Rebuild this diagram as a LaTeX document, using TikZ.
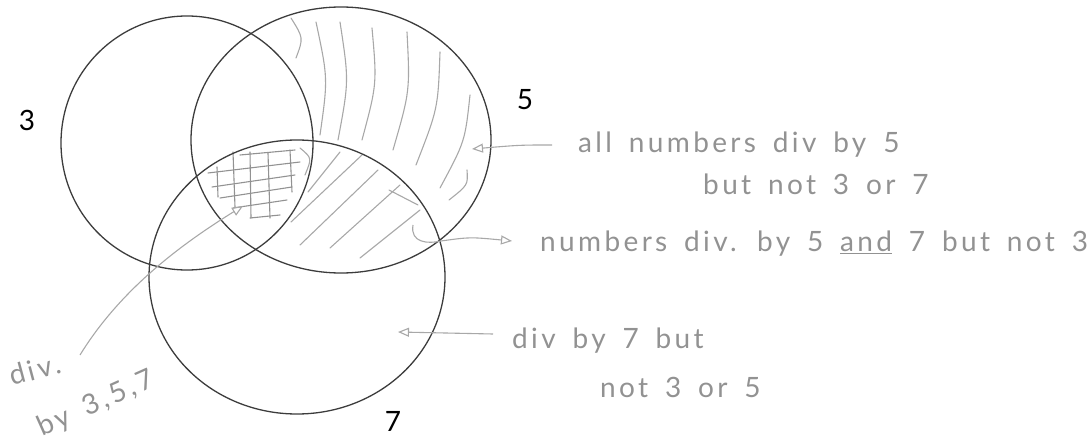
\documentclass[tikz,border=0pt]{standalone}
\usepackage{fontspec}
\setmainfont{Lato}
\newfontfamily\handfont[LetterSpace=12,WordSpace=1.6]{Lato}
\usetikzlibrary{arrows.meta}

\definecolor{ink}{HTML}{3C3C3C}
\definecolor{pencil}{HTML}{A8A8A8}
\definecolor{lead}{HTML}{929292}

\begin{document}
\begin{tikzpicture}[x=1pt, y=-1pt,
    ring/.style={draw=ink, line width=1.3pt},
    hatch/.style={draw=pencil, line width=1.1pt, line cap=round},
    grid/.style={draw=lead, line width=1.1pt, line cap=round},
    pointer/.style={-{Triangle[open, length=11pt, width=9pt]}, draw=pencil, line width=1.1pt},
    note/.style={text=lead, font=\handfont\fontsize{28}{32}\selectfont, inner sep=0pt, anchor=base west},
    digit/.style={text=black, font=\fontsize{28}{30}\selectfont, inner sep=0pt}
]
\useasboundingbox (0,0) rectangle (1089,446);

% 5 only
\foreach \xa/\ya/\xb/\yb in {291/18/296/58, 316/22/320/135, 340/22/338/140, 372/28/362/140,
    407/32/393/150, 440/52/416/165, 470/95/440/188, 467/170/449/200}
  \draw[hatch] (\xa,\ya) .. controls ({(\xa+\xb)/2+10},{(\ya+\yb)/2}) .. (\xb,\yb);

% 5 and 7, not 3
\foreach \xa/\ya/\xb/\yb in {308/192/340/152, 291/222/362/155, 300/245/378/170,
    330/248/400/185, 360/258/420/210, 389/190/418/205}
  \draw[hatch] (\xa,\ya) -- (\xb,\yb);
\draw[hatch] (300,148) .. controls (312,158) .. (305,175);

% 3, 5 and 7
\foreach \xa/\ya/\xb/\yb in {217/167/218/197, 233/152/235/207, 250/152/251/218,
    268/153/270/218, 290/150/292/192}
  \draw[grid] (\xa,\ya) -- (\xb,\yb);
\foreach \xa/\ya/\xb/\yb in {240/155/295/150, 208/173/300/162, 212/187/295/175,
    220/198/292/187, 233/208/287/200, 250/218/280/215}
  \draw[grid] (\xa,\ya) -- (\xb,\yb);

\draw[ring] (187,143) ellipse [x radius=126, y radius=127];
\draw[ring] (341,140) ellipse [x radius=150, y radius=133];
\draw[ring] (297,277) ellipse [x radius=148, y radius=137];

\node[digit] (n3) at (27,120) {3};
\node[digit] (n5) at (525,100) {5};
\node[digit] (n7) at (393,421) {7};

\node[note] (t5a) at (578,153) {all numbers div by 5};
\node[note] (t5b) at (703,195) {but not 3 or 7};
\node[note] (t57) at (540,252) {numbers div. by 5 \underline{and} 7 but not 3};
\node[note] (t7a) at (512,348) {div by 7 but};
\node[note] (t7b) at (600,397) {not 3 or 5};
\node[note, rotate=15] (t357a) at (12,386) {div.};
\node[note, rotate=24] (t357b) at (42,437) {by 3,5,7};

\coordinate (p5) at (472,149);
\coordinate (q5) at (552,145);
\coordinate (p57) at (413,225);
\coordinate (q57) at (512,241);
\coordinate (p7) at (398,332);
\coordinate (q7) at (493,334);
\coordinate (p357) at (243,206);
\coordinate (q357) at (80,355);

\draw[pointer] (q5) .. controls (520,145) .. (p5);
\draw[pointer] (p57) .. controls (410,243) and (428,244) .. (441,241) .. controls (470,237) .. (q57);
\draw[pointer] (q7) -- (p7);
\draw[pointer] (q357) .. controls (120,290) and (180,245) .. (p357);
\end{tikzpicture}
\end{document}
